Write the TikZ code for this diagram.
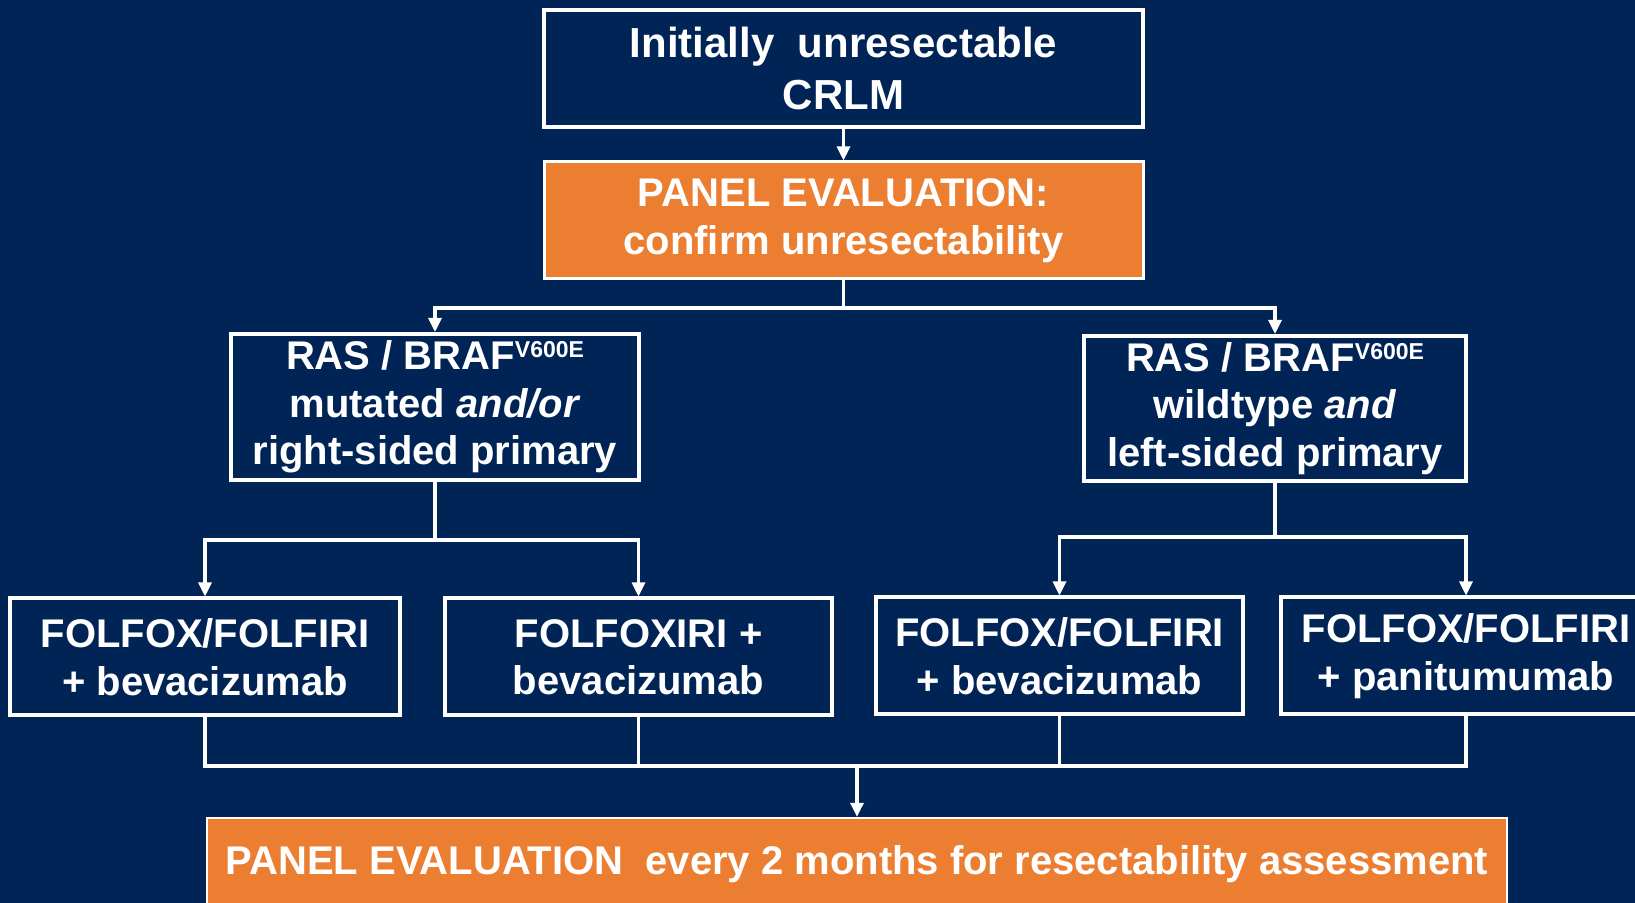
\documentclass[tikz,border=0pt]{standalone}
\usepackage{fontspec}
\setmainfont{Liberation Sans}
\usetikzlibrary{arrows.meta}
\definecolor{navy}{RGB}{0,36,86}
\definecolor{orng}{RGB}{236,126,50}
\newcommand{\vsup}{\raisebox{6pt}{\fontsize{11.5pt}{12pt}\selectfont V600E}}
\begin{document}
\begin{tikzpicture}[x=0.5pt,y=-0.5pt,
  box/.style={draw=white, line width=2pt, fill=navy, text=white,
    font=\bfseries\fontsize{20pt}{23.75pt}\selectfont, align=center, inner sep=0pt},
  obox/.style={box, fill=orng, line width=1.5pt},
  conn/.style={draw=white, line width=1.6pt},
  arr/.style={conn, -{Triangle[width=6.5pt,length=7pt]}}]
\path[use as bounding box, fill=navy] (0,0) rectangle (1635,903);
\clip (0,0) rectangle (1635,903);

\node[box, minimum width=299.5pt, minimum height=58.5pt,
  font=\bfseries\fontsize{21pt}{26pt}\selectfont] (top) at (843.5,68.5)
  {Initially\ \ unresectable\\CRLM};
\node[obox, minimum width=299.5pt, minimum height=58.5pt] (panel) at (843.5,220.5)
  {PANEL EVALUATION:\\confirm unresectability};

\node[box, minimum width=204pt, minimum height=73pt] (left) at (435,407)
  {RAS / BRAF\vsup\\mutated \textit{and/or}\\right-sided primary};
\node[box, minimum width=191pt, minimum height=72.5pt] (right) at (1275,408.5)
  {RAS / BRAF\vsup\\wildtype \textit{and}\\left-sided primary};

\node[box, minimum width=195pt, minimum height=58.5pt] (b1) at (205,657)
  {FOLFOX/FOLFIRI\\+ bevacizumab};
\node[box, minimum width=193.5pt, minimum height=58.5pt] (b2) at (638.5,657)
  {FOLFOXIRI +\\bevacizumab};
\node[box, minimum width=183.5pt, minimum height=58.5pt] (b3) at (1059.5,656)
  {FOLFOX/FOLFIRI\\+ bevacizumab};
\node[box, minimum width=185pt, minimum height=58.5pt] (b4) at (1466,656)
  {FOLFOX/FOLFIRI\\+ panitumumab};

\node[obox, minimum width=650pt, minimum height=46pt, line width=1.2pt] (bottom) at (857,864)
  {PANEL EVALUATION\ \ every 2 months for resectability assessment};

% connectors
\draw[arr] (top) -- (panel);
\coordinate (j1) at (843.5,308);
\draw[conn] (panel.south) -- (j1);
\draw[arr] (j1) -| (left.north);
\draw[arr] (j1) -| (right.north);

\coordinate (j2) at (435,540);
\draw[conn] (left.south) -- (j2);
\draw[arr] (j2) -| (b1.north);
\draw[arr] (j2) -| (b2.north);

\coordinate (j3) at (1275,537);
\draw[conn] (right.south) -- (j3);
\draw[arr] (j3) -| (b3.north);
\draw[arr] (j3) -| (b4.north);

\coordinate (m) at (857,766);
\draw[conn] (b1.south) |- (m);
\draw[conn] (m) -| (b4.south);
\draw[conn] (b2.south) -- (b2.south |- m);
\draw[conn] (b3.south) -- (b3.south |- m);
\draw[arr] (m) -- (bottom.north);
\end{tikzpicture}
\end{document}
